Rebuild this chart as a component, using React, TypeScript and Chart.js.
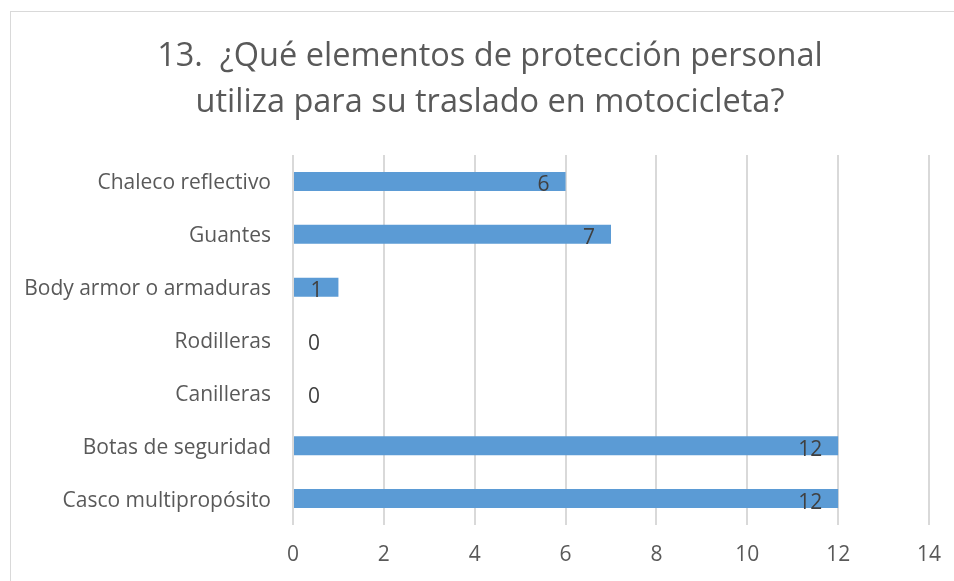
import React, { useEffect, useRef } from "react";
import { Chart, registerables } from "chart.js";

Chart.register(...registerables);

const categories = [
  "Chaleco reflectivo",
  "Guantes",
  "Body armor o armaduras",
  "Rodilleras",
  "Canilleras",
  "Botas de seguridad",
  "Casco multipropósito",
];
const values = [6, 7, 1, 0, 0, 12, 12];
const titleLines = [
  "13.  ¿Qué elementos de protección personal",
  "utiliza para su traslado en motocicleta?",
];
const xMin = 0;
const xMax = 14;
const xStep = 2;

const FONT = "'Open Sans', Lato, sans-serif";

export default function App() {
  const ref = useRef<HTMLCanvasElement | null>(null);

  useEffect(() => {
    if (!ref.current) return;
    const framePlugin = {
      id: "frame",
      beforeDraw(chart: any) {
        const ctx = chart.ctx;
        ctx.save();
        ctx.fillStyle = "#ffffff";
        ctx.fillRect(0, 0, chart.width, chart.height);
        ctx.strokeStyle = "#D9D9D9";
        ctx.lineWidth = 1;
        ctx.strokeRect(10.5, 11.5, chart.width + 20, chart.height + 20);
        ctx.fillStyle = "#595959";
        ctx.font = `32.5px ${FONT}`;
        ctx.textAlign = "center";
        ctx.textBaseline = "middle";
        titleLines.forEach((t, i) => ctx.fillText(t, 490, 57 + i * 46));
        ctx.restore();
      },
    };
    const labelPlugin = {
      id: "valueLabels",
      afterDatasetsDraw(chart: any) {
        const ctx = chart.ctx;
        const meta = chart.getDatasetMeta(0);
        ctx.save();
        ctx.fillStyle = "#404040";
        ctx.font = `21px ${FONT}`;
        ctx.textBaseline = "middle";
        meta.data.forEach((bar: any, i: number) => {
          const v = values[i];
          if (v > 0) {
            ctx.textAlign = "right";
            ctx.fillText(String(v), bar.x - 16, bar.y + 4);
          } else {
            ctx.textAlign = "left";
            ctx.fillText(String(v), bar.base + 15, bar.y + 4);
          }
        });
        ctx.restore();
      },
    };
    const chart = new Chart(ref.current, {
      type: "bar",
      data: {
        labels: categories,
        datasets: [
          {
            data: values,
            backgroundColor: "#5B9BD5",
            borderWidth: 0,
            barPercentage: 0.36,
            categoryPercentage: 1,
          },
        ],
      },
      options: {
        indexAxis: "y",
        responsive: false,
        animation: false,
        layout: { padding: { top: 155, right: 25, left: 0, bottom: 0 } },
        plugins: {
          legend: { display: false },
          title: { display: false },
          tooltip: { enabled: false },
        },
        scales: {
          x: {
            min: xMin,
            max: xMax,
            ticks: {
              stepSize: xStep,
              color: "#595959",
              font: { family: FONT, size: 21 },
              padding: 17,
            },
            grid: { color: "#D9D9D9", lineWidth: 2, drawTicks: false },
            border: { display: false },
            afterFit(scale: any) {
              scale.height = 56;
              scale.paddingLeft = 0;
              scale.paddingRight = 0;
            },
          },
          y: {
            ticks: {
              color: "#595959",
              font: { family: FONT, size: 21 },
              padding: 22,
              labelOffset: 2,
            },
            grid: { display: false, drawTicks: false },
            border: { display: false },
            afterFit(scale: any) {
              scale.width = 293;
              scale.paddingTop = 0;
              scale.paddingBottom = 0;
            },
          },
        },
      },
      plugins: [framePlugin, labelPlugin],
    });
    return () => chart.destroy();
  }, []);

  return (
    <canvas
      ref={ref}
      width={954}
      height={581}
      style={{ position: "absolute", left: 0, top: 0, display: "block" }}
    />
  );
}
